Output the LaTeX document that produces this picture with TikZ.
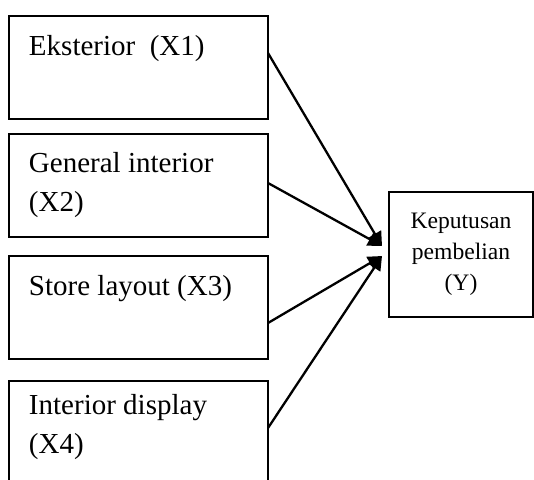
\documentclass[tikz,border=0pt]{standalone}
\usepackage{fontspec}
\setmainfont{Liberation Serif}
\usetikzlibrary{positioning, calc, arrows.meta}

% text set at the top left of a variable box
\newcommand{\boxtext}[2]{\parbox[t][103pt][t]{259pt}{\raggedright\leftskip=20pt\rule{0pt}{#1}#2}}

\begin{document}
\begin{tikzpicture}[
    x=1pt, y=1pt,
    var_box/.style={rectangle, draw, line width=1.5pt, inner sep=0pt, outer sep=0pt,
                    font=\fontsize{29}{39}\selectfont},
    dep_box/.style={rectangle, draw, line width=1.5pt, minimum width=144pt, minimum height=125pt,
                    align=center, outer sep=0pt, font=\fontsize{23.6}{31}\selectfont},
    link/.style={line width=2.3pt, -{Triangle[length=14pt,width=14pt]}}
    ]
    \clip (0,0) rectangle (534,-479);

    % Nodes
    \node[var_box, anchor=north west] (x1) at (9,-16) {\boxtext{39pt}{Eksterior\ \ (X1)}};
    \node[var_box] (x2) [below=15pt of x1] {\boxtext{38pt}{General interior\\(X2)}};
    \node[var_box] (x3) [below=19pt of x2] {\boxtext{39pt}{Store layout (X3)}};
    \node[var_box] (x4) [below=22pt of x3] {\boxtext{33pt}{Interior display\\(X4)}};
    \node[dep_box, anchor=north west] (y) at (389,-192) {Keputusan\\pembelian\\(Y)};

    % Arrows
    \draw[link] ($(x1.north east)+(0,-37)$) -- ($(y.west)+(-7,8.5)$);
    \draw[link] ($(x2.north east)+(0,-49)$) -- ($(y.west)+(-7,8.5)$);
    \draw[link] ($(x3.north east)+(0,-67)$) -- ($(y.west)+(-7,-1.5)$);
    \draw[link] ($(x4.north east)+(0,-47)$) -- ($(y.west)+(-7,-1.5)$);
\end{tikzpicture}
\end{document}
